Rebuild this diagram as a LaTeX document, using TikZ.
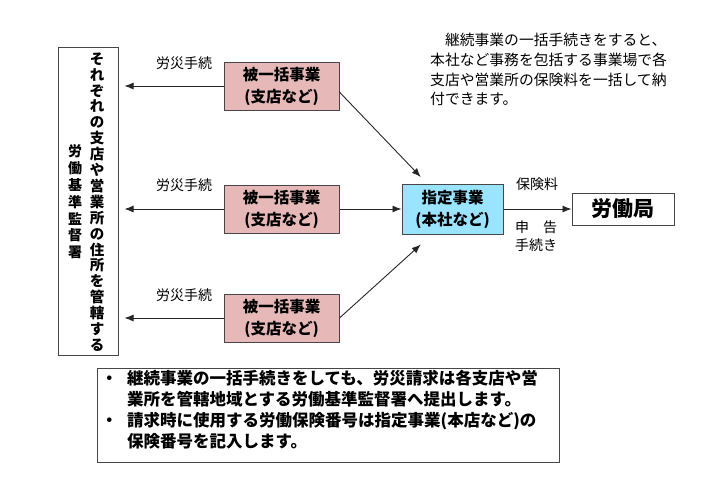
\documentclass[tikz,border=0pt]{standalone}
\usepackage{fontspec}
\setmainfont{Noto Sans CJK JP}
\usetikzlibrary{arrows.meta}

\definecolor{branchpink}{RGB}{230,185,184}
\definecolor{headblue}{RGB}{155,228,255}
\definecolor{framegray}{RGB}{70,70,70}

\tikzset{
  frame/.style={draw=framegray, line width=1pt, inner sep=0pt},
  branchbox/.style={frame, fill=branchpink, minimum width=115pt, minimum height=48pt,
    align=center, font=\bfseries\fontsize{15.5}{22}\selectfont},
  flow/.style={draw=black!85, line width=0.9pt, -{Latex[length=9pt,width=7pt]}},
  lbl/.style={inner sep=0pt, font=\fontsize{14}{16}\selectfont},
}

\begin{document}
\begin{tikzpicture}[x=1pt,y=-1pt]
\useasboundingbox (0,0) rectangle (716,477);

% left: inspection office
\node[frame, minimum width=60pt, minimum height=308pt] (kantoku) at (88,201) {};
\node[inner sep=0pt, align=center, font=\bfseries\fontsize{14.5}{15.9}\selectfont] (addr) at (97,202)
  {そ\\れ\\ぞ\\れ\\の\\支\\店\\や\\営\\業\\所\\の\\住\\所\\を\\管\\轄\\す\\る};
\node[inner sep=0pt, align=center, font=\bfseries\fontsize{14}{16.8}\selectfont] (office) at (75,202)
  {労\\働\\基\\準\\監\\督\\署};

% branches
\node[branchbox] (p1) at (281.5,86) {被一括事業\\(支店など)};
\node[branchbox] (p2) at (281.5,209) {被一括事業\\(支店など)};
\node[branchbox] (p3) at (281.5,318) {被一括事業\\(支店など)};

\draw[flow, shorten >=6pt] (p1.west) -- (p1.west -| kantoku.east);
\draw[flow, shorten >=6pt] (p2.west) -- (p2.west -| kantoku.east);
\draw[flow, shorten >=6pt] (p3.west) -- (p3.west -| kantoku.east);

\node[lbl] (l1) at (184,63) {労災手続};
\node[lbl] (l2) at (184,185) {労災手続};
\node[lbl] (l3) at (184,295) {労災手続};

% head office and bureau
\node[frame, fill=headblue, minimum width=101pt, minimum height=50pt, align=center,
  font=\bfseries\fontsize{15.5}{22}\selectfont] (hq) at (452.5,209) {指定事業\\(本社など)};
\node[frame, minimum width=102pt, minimum height=32pt,
  font=\bfseries\fontsize{21}{24}\selectfont] (bureau) at (623,209) {労働局};

\draw[flow, shorten >=9pt] (p1.-6) -- (hq.135);
\draw[flow] (p2.east) -- (hq.west);
\draw[flow, shorten >=15pt] (p3.east) -- (hq.-129);
\draw[flow] (hq.east) -- (bureau.west);

\node[lbl] (fee) at (537,184) {保険料};
\node[lbl, anchor=west] (decl) at (515,227) {申　告};
\node[lbl, anchor=west] (proc) at (515,245) {手続き};

% explanation
\node[inner sep=0pt, anchor=north west, align=left, font=\fontsize{14.8}{19.7}\selectfont] (info) at (430,33)
  {　継続事業の一括手続きをすると、\\本社など事務を包括する事業場で各\\支店や営業所の保険料を一括して納\\付できます。};

% note
\draw[framegray, line width=1pt] (97,368) rectangle (559,462);
\node[inner sep=2pt, anchor=north west, align=left, font=\bfseries\fontsize{16.5}{21}\selectfont] (note) at (99,368)
  {\makebox[26pt][l]{・}継続事業の一括手続きをしても、労災請求は各支店や営\\
   \makebox[26pt][l]{}業所を管轄地域とする労働基準監督署へ提出します。\\
   \makebox[26pt][l]{・}請求時に使用する労働保険番号は指定事業(本店など)の\\
   \makebox[26pt][l]{}保険番号を記入します。};
\end{tikzpicture}
\end{document}
